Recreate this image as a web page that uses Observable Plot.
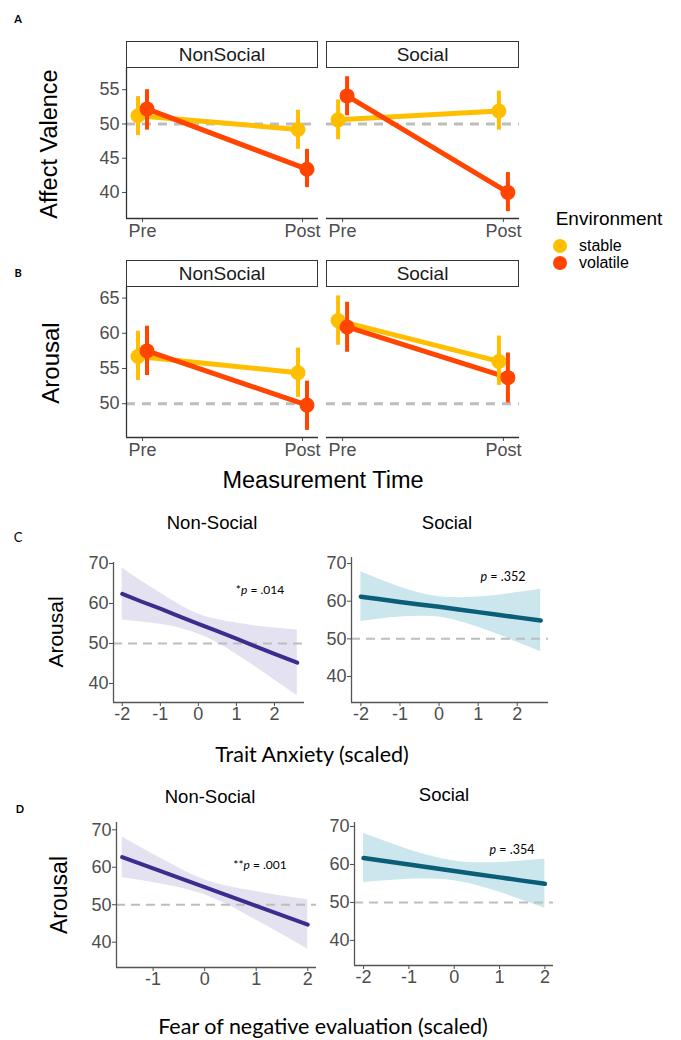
<!DOCTYPE html>
<html>
<head>
<meta charset="utf-8">
<script src="https://cdn.jsdelivr.net/npm/d3@7"></script>
<script src="https://cdn.jsdelivr.net/npm/@observablehq/plot@0.6"></script>
<style>
  body { margin: 0; background: #fff; }
  #fig { position: relative; width: 681px; height: 1040px; background: #fff; overflow: hidden; }
  .t { position: absolute; white-space: nowrap; transform: translate(-50%, -50%); line-height: 1; }
  .strip { position: absolute; box-sizing: border-box; border: 1.5px solid #333; background: #fff;
           display: flex; align-items: center; justify-content: center;
           font-family: 'Liberation Sans', Arial, sans-serif; font-size: 19px; color: #1a1a1a; }
</style>
</head>
<body>
<div id="fig"></div>
<script>
// ---------------- DATA ----------------
const times = ["Pre", "Post"];
const environments = ["stable", "volatile"];
const contexts = ["NonSocial", "Social"];
const envColors = ["#FFBF00", "#FF4500"];
// order of the 8 values: NonSocial-stable (Pre, Post), NonSocial-volatile (Pre, Post),
//                        Social-stable (Pre, Post), Social-volatile (Pre, Post)
const valenceMean = [51.2, 49.2, 52.2, 43.4, 50.6, 51.9, 54.1, 40.0];
const valenceLow  = [48.3, 46.3, 49.1, 40.7, 47.7, 49.1, 51.2, 37.2];
const valenceHigh = [54.0, 52.0, 55.0, 46.3, 53.5, 54.8, 56.9, 42.9];
const arousalMean = [56.7, 54.4, 57.5, 49.8, 61.8, 56.0, 60.9, 53.7];
const arousalLow  = [53.3, 50.9, 54.0, 46.2, 58.3, 52.6, 57.3, 50.1];
const arousalHigh = [60.3, 57.9, 61.0, 53.2, 65.3, 59.6, 64.4, 57.2];
const valenceTicks = [40, 45, 50, 55];
const arousalTicksB = [50, 55, 60, 65];
const arousalTicksCD = [40, 50, 60, 70];

// Panel C: Trait anxiety regressions
const traitX      = [-2, -1.5, -1, -0.5, 0, 0.5, 1, 1.5, 2, 2.6];
const traitNSFit  = [62.4, 60.5, 58.7, 56.8, 54.9, 53.1, 51.2, 49.3, 47.4, 45.2];
const traitNSLow  = [55.9, 55.4, 54.8, 53.9, 52.4, 50.2, 47.3, 44.2, 40.9, 37.0];
const traitNSHigh = [68.9, 65.6, 62.6, 59.7, 57.4, 56.0, 55.1, 54.4, 53.9, 53.4];
const traitSFit   = [61.2, 60.5, 59.8, 59.1, 58.5, 57.8, 57.1, 56.4, 55.7, 54.9];
const traitSLow   = [54.6, 55.3, 55.8, 56.0, 55.8, 54.7, 53.1, 51.2, 49.1, 46.6];
const traitSHigh  = [67.8, 65.7, 63.8, 62.2, 61.2, 60.9, 61.1, 61.6, 62.3, 63.2];
const traitTicks  = [-2, -1, 0, 1, 2];

// Panel D: Fear of negative evaluation regressions
const fneNSX    = [-1.6, -1.2, -0.8, -0.4, 0, 0.4, 0.8, 1.2, 1.6, 2.0];
const fneNSFit  = [62.7, 60.7, 58.7, 56.7, 54.7, 52.7, 50.7, 48.7, 46.7, 44.7];
const fneNSLow  = [57.3, 56.4, 55.4, 54.3, 52.7, 50.3, 47.4, 44.4, 41.3, 38.1];
const fneNSHigh = [68.1, 65.0, 62.0, 59.1, 56.7, 55.1, 54.0, 53.0, 52.1, 51.3];
const fneSX     = [-2, -1.5, -1, -0.5, 0, 0.5, 1, 1.5, 2];
const fneSFit   = [61.7, 60.85, 60.0, 59.15, 58.3, 57.45, 56.6, 55.75, 54.9];
const fneSLow   = [55.25, 55.7, 56.1, 56.15, 55.7, 54.45, 52.7, 50.6, 48.45];
const fneSHigh  = [68.15, 66.0, 63.9, 62.15, 60.9, 60.45, 60.5, 60.9, 61.35];
const fneNSTicks = [-1, 0, 1, 2];
const fneSTicks  = [-2, -1, 0, 1, 2];

const pLabels = ["*<i>p</i> = .014", "<i>p</i> = .352", "**<i>p</i> = .001", "<i>p</i> = .354"];

// ---------------- HELPERS ----------------
const fig = document.getElementById("fig");
const ARIAL = "'Liberation Sans', Arial, Helvetica, sans-serif";
const CALI = "Lato, 'Open Sans', sans-serif";

function place(svg, left, top) {
  svg.style.position = "absolute";
  svg.style.left = left + "px";
  svg.style.top = top + "px";
  svg.style.overflow = "visible";
  fig.appendChild(svg);
}
function text(html, x, y, style) {
  const d = document.createElement("div");
  d.className = "t";
  d.innerHTML = html;
  d.style.left = x + "px";
  d.style.top = y + "px";
  Object.assign(d.style, style);
  fig.appendChild(d);
  return d;
}
function strip(label, x0, y0, w, h) {
  const d = document.createElement("div");
  d.className = "strip";
  d.textContent = label;
  Object.assign(d.style, {left: x0 + "px", top: y0 + "px", width: w + "px", height: h + "px"});
  fig.appendChild(d);
}

function abPanel(means, lows, highs, ci, yDomain, yTicks, showY, box) {
  const rows = [];
  environments.forEach((env, e) => times.forEach((t, ti) => {
    const i = ci * 4 + e * 2 + ti;
    rows.push({env, e, t: ti, mean: means[i], lo: lows[i], hi: highs[i]});
  }));
  const xDomain = [-0.1, 1.1];
  const marks = [Plot.ruleY([50], {stroke: "#bdbdbd", strokeWidth: 3, strokeDasharray: "9,7"})];
  environments.forEach((env, e) => {
    marks.push(Plot.line(rows.filter(r => r.e === e),
      {x: "t", y: "mean", stroke: envColors[e], strokeWidth: 5, dx: e === 0 ? -4.5 : 4.5}));
  });
  environments.forEach((env, e) => {
    const d = rows.filter(r => r.e === e);
    const dx = e === 0 ? -4.5 : 4.5;
    marks.push(Plot.ruleX(d, {x: "t", y1: "lo", y2: "hi", stroke: envColors[e], strokeWidth: 4, dx}));
    marks.push(Plot.dot(d, {x: "t", y: "mean", r: 7.5, fill: envColors[e], stroke: "none", dx}));
  });
  if (showY) marks.push(Plot.ruleX([xDomain[0]], {stroke: "#333", strokeWidth: 1.3}));
  marks.push(Plot.ruleY([yDomain[0]], {stroke: "#333", strokeWidth: 1.3}));
  const svg = Plot.plot({
    width: box.w, height: box.h,
    marginLeft: box.mL, marginRight: box.mR, marginTop: box.mT, marginBottom: box.mB,
    style: {fontFamily: ARIAL, fontSize: "18px", color: "#4d4d4d", background: "transparent", overflow: "visible"},
    x: {domain: xDomain, ticks: [0, 1], tickFormat: i => times[i], tickSize: 4, tickPadding: 2, label: null},
    y: showY ? {domain: yDomain, ticks: yTicks, tickSize: 4, tickPadding: 3, label: null}
             : {domain: yDomain, axis: null},
    marks
  });
  place(svg, box.left, box.top);
}

function cdPanel(xs, fit, lo, hi, lineColor, bandColor, lineWidth, xDomain, yDomain, xTicks, box) {
  const rows = xs.map((x, i) => ({x, fit: fit[i], lo: lo[i], hi: hi[i]}));
  const svg = Plot.plot({
    width: box.w, height: box.h,
    marginLeft: box.mL, marginRight: box.mR, marginTop: box.mT, marginBottom: box.mB,
    style: {fontFamily: ARIAL, fontSize: "18px", color: "#4d4d4d", background: "transparent", overflow: "visible"},
    x: {domain: xDomain, ticks: xTicks, tickFormat: d => String(d), tickSize: 4, tickPadding: 1, label: null},
    y: {domain: yDomain, ticks: arousalTicksCD, tickSize: 4, tickPadding: 1, label: null},
    marks: [
      Plot.areaY(rows, {x: "x", y1: "lo", y2: "hi", fill: bandColor, curve: "natural"}),
      Plot.ruleY([50], {stroke: "#bdbdbd", strokeWidth: 2, strokeDasharray: "9,6"}),
      Plot.line(rows, {x: "x", y: "fit", stroke: lineColor, strokeWidth: lineWidth}),
      Plot.ruleX([xDomain[0]], {stroke: "#555", strokeWidth: 1.3}),
      Plot.ruleY([yDomain[0]], {stroke: "#555", strokeWidth: 1.3})
    ]
  });
  place(svg, box.left, box.top);
}

// ---------------- PANEL A ----------------
text("A", 18, 18, {fontFamily: CALI, fontWeight: "bold", fontSize: "11px"});
strip(contexts[0], 126, 41, 192, 27);
strip(contexts[1], 326, 41, 193, 27);
abPanel(valenceMean, valenceLow, valenceHigh, 0, [36.2, 58.1], valenceTicks, true,
  {left: 60, top: 60, w: 270, h: 195, mL: 66, mR: 12, mT: 8, mB: 37});
abPanel(valenceMean, valenceLow, valenceHigh, 1, [36.2, 58.1], valenceTicks, false,
  {left: 320, top: 60, w: 210, h: 195, mL: 6, mR: 11, mT: 8, mB: 37});
text("Affect Valence", 50, 144, {fontFamily: ARIAL, fontSize: "23.5px", color: "#000",
  transform: "translate(-50%,-50%) rotate(-90deg)"});

// Legend
text("Environment", 609, 218, {fontFamily: ARIAL, fontSize: "19px", color: "#000"});
environments.forEach((env, e) => {
  const y = 246 + e * 17;
  text("", 560, y, {width: "14px", height: "14px", borderRadius: "50%", background: envColors[e]});
  const l = text(env, 579, y, {fontFamily: ARIAL, fontSize: "16px", color: "#000"});
  l.style.transform = "translate(0,-50%)";
});

// ---------------- PANEL B ----------------
text("B", 18, 272, {fontFamily: CALI, fontWeight: "bold", fontSize: "11px"});
strip(contexts[0], 126, 260, 192, 27);
strip(contexts[1], 326, 260, 193, 27);
abPanel(arousalMean, arousalLow, arousalHigh, 0, [45.2, 66.5], arousalTicksB, true,
  {left: 60, top: 279, w: 270, h: 195, mL: 66, mR: 12, mT: 8, mB: 37});
abPanel(arousalMean, arousalLow, arousalHigh, 1, [45.2, 66.5], arousalTicksB, false,
  {left: 320, top: 279, w: 210, h: 195, mL: 6, mR: 11, mT: 8, mB: 37});
text("Arousal", 51, 363, {fontFamily: ARIAL, fontSize: "24px", color: "#000",
  transform: "translate(-50%,-50%) rotate(-90deg)"});
text("Measurement Time", 323, 481, {fontFamily: ARIAL, fontSize: "23.5px", color: "#000"});

// ---------------- PANEL C ----------------
text("C", 18, 537, {fontFamily: CALI, fontSize: "13px"});
text("Non-Social", 212, 523, {fontFamily: ARIAL, fontSize: "18.5px", color: "#000"});
text("Social", 447, 523, {fontFamily: ARIAL, fontSize: "18.5px", color: "#000"});
cdPanel(traitX, traitNSFit, traitNSLow, traitNSHigh, "#3D2C8D", "#E4E1F1", 4, [-2.23, 2.79], [35.25, 70.25], traitTicks,
  {left: 75, top: 552, w: 240, h: 180, mL: 38, mR: 11, mT: 10, mB: 30});
cdPanel(traitX, traitSFit, traitSLow, traitSHigh, "#0B5E78", "#CBE7ED", 4.5, [-2.24, 2.8], [33.1, 71.6], traitTicks,
  {left: 313, top: 547, w: 245, h: 185, mL: 38, mR: 10, mT: 10, mB: 30});
text("Arousal", 55, 632, {fontFamily: ARIAL, fontSize: "21px", color: "#000",
  transform: "translate(-50%,-50%) rotate(-90deg)"});
text(pLabels[0], 260, 590, {fontFamily: CALI, fontSize: "12px", color: "#000"});
text(pLabels[1], 503, 577, {fontFamily: CALI, fontSize: "12.5px", color: "#000"});
text("Trait Anxiety (scaled)", 312, 755, {fontFamily: CALI, fontSize: "21.5px", color: "#000"});

// ---------------- PANEL D ----------------
text("D", 20, 808, {fontFamily: CALI, fontWeight: "bold", fontSize: "11px"});
text("Non-Social", 210, 797, {fontFamily: ARIAL, fontSize: "18.5px", color: "#000"});
text("Social", 444, 795, {fontFamily: ARIAL, fontSize: "18.5px", color: "#000"});
cdPanel(fneNSX, fneNSFit, fneNSLow, fneNSHigh, "#3D2C8D", "#E4E1F1", 4, [-1.71, 2.17], [33.25, 71.95], fneNSTicks,
  {left: 78, top: 812, w: 250, h: 185, mL: 38, mR: 12, mT: 10, mB: 30});
cdPanel(fneSX, fneSFit, fneSLow, fneSHigh, "#0B5E78", "#CBE7ED", 4.5, [-2.2, 2.19], [33.4, 71.05], fneSTicks,
  {left: 316, top: 812, w: 250, h: 183, mL: 38, mR: 13, mT: 10, mB: 30});
text("Arousal", 59, 895, {fontFamily: ARIAL, fontSize: "23px", color: "#000",
  transform: "translate(-50%,-50%) rotate(-90deg)"});
text(pLabels[2], 260, 865, {fontFamily: CALI, fontSize: "12px", color: "#000"});
text(pLabels[3], 512, 850, {fontFamily: CALI, fontSize: "12.5px", color: "#000"});
text("Fear of negative evaluation (scaled)", 323, 1027, {fontFamily: CALI, fontSize: "21.5px", color: "#000"});
</script>
</body>
</html>
